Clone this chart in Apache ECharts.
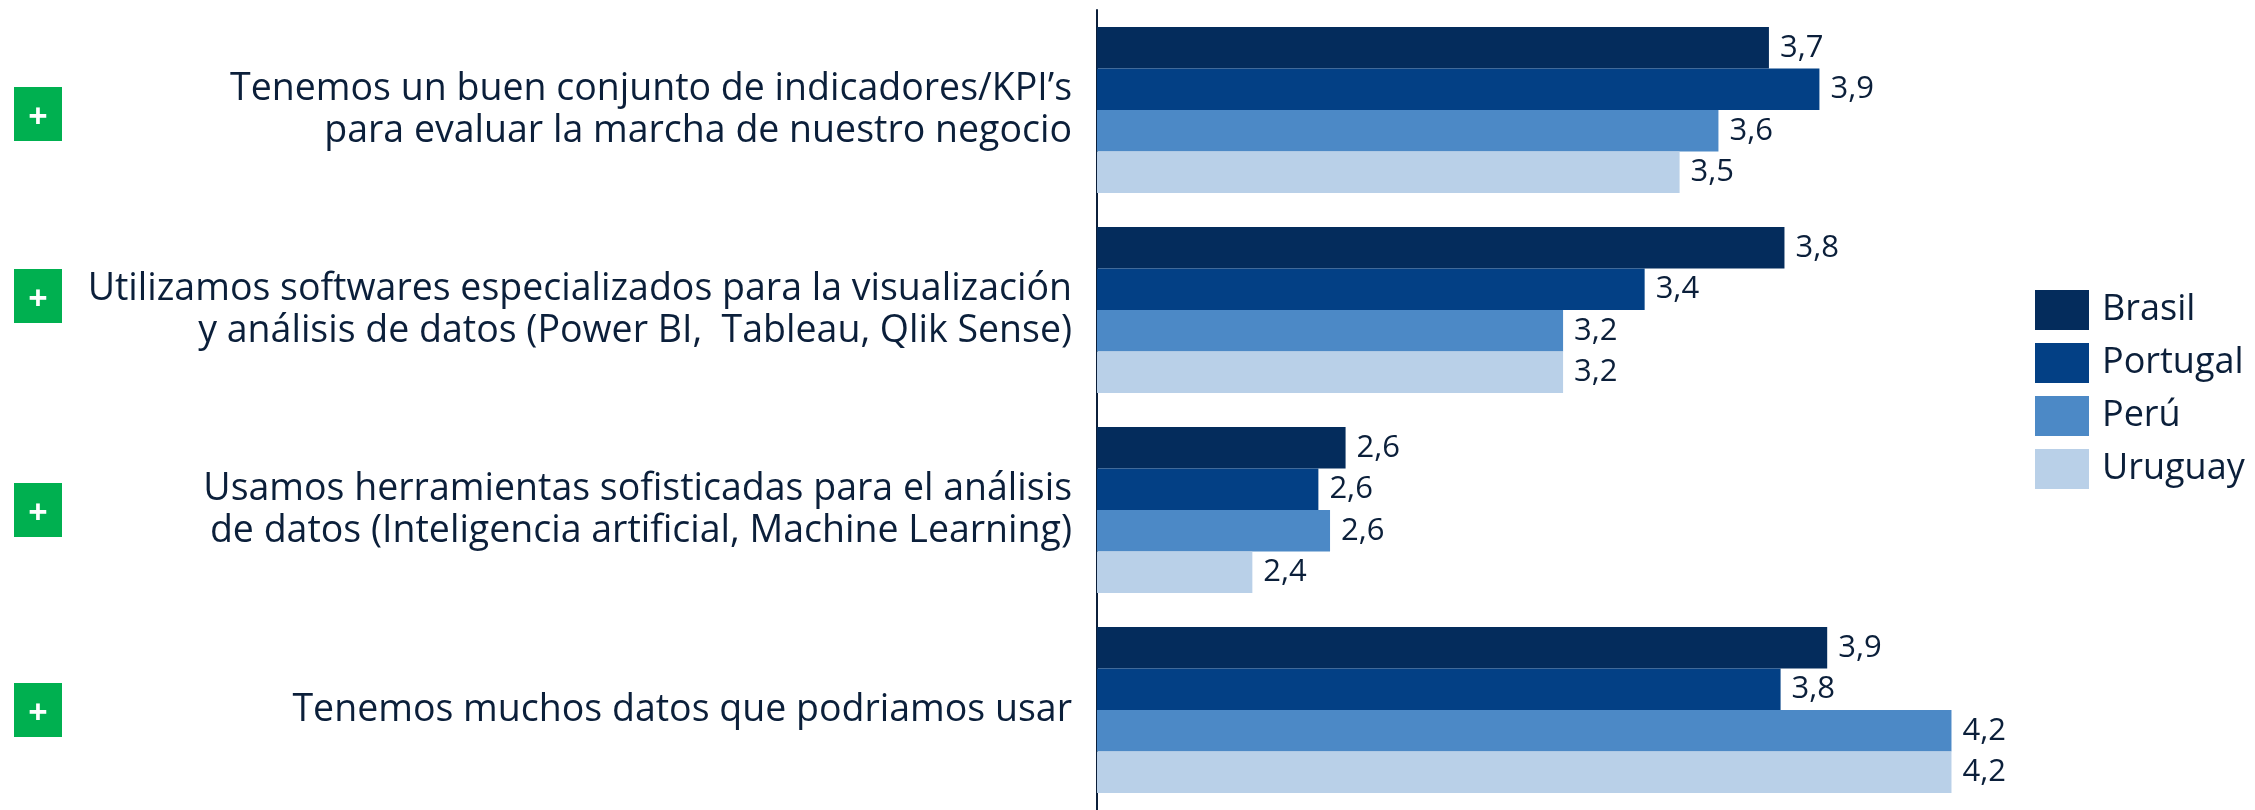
<!DOCTYPE html>
<html>
<head>
<meta charset="utf-8">
<script src="https://cdn.jsdelivr.net/npm/echarts@6/dist/echarts.min.js"></script>
<style>
  html, body { margin: 0; padding: 0; background: #fff; }
  #chart { width: 2255px; height: 810px; }
</style>
</head>
<body>
<div id="chart"></div>
<script>
// categories (y axis, top to bottom)
const categories = [
  'Tenemos un buen conjunto de indicadores/KPI’s\npara evaluar la marcha de nuestro negocio',
  'Utilizamos softwares especializados para la visualización\ny análisis de datos (Power BI,  Tableau, Qlik Sense)',
  'Usamos herramientas sofisticadas para el análisis\nde datos (Inteligencia artificial, Machine Learning)',
  'Tenemos muchos datos que podriamos usar'
]
const countries = ['Brasil', 'Portugal', 'Perú', 'Uruguay']
// values (labels show them rounded)
const brasil = [3.73, 3.77, 2.64, 3.88]
const portugal = [3.86, 3.41, 2.57, 3.76]
const peru = [3.60, 3.20, 2.60, 4.20]
const uruguay = [3.50, 3.20, 2.40, 4.20]
const colors = ['#042c5c', '#034085', '#4c89c6', '#b9d0e8']

const textColor = '#0b1f3a'
// the green "+" boxes sit a little off the band centre in the original
const plusShift = [4, -14, 0, 0]

const chart = echarts.init(document.getElementById('chart'))

const seriesData = [brasil, portugal, peru, uruguay]

chart.setOption({
  animation: false,
  textStyle: { fontFamily: 'Open Sans' },
  grid: {
    left: 1097,
    right: 187,
    top: 10,
    bottom: -2
  },
  legend: {
    orient: 'vertical',
    left: 2030,
    top: 285,
    itemWidth: 54,
    itemHeight: 40,
    itemGap: 13,
    icon: 'rect',
    data: countries,
    textStyle: {
      color: textColor,
      fontSize: 36,
      fontFamily: 'Open Sans',
      padding: [0, 0, 0, 8]
    }
  },
  xAxis: {
    type: 'value',
    min: 2,
    max: 4.5,
    show: false
  },
  yAxis: [{
    type: 'category',
    data: categories,
    inverse: true,
    axisTick: { show: false },
    axisLine: {
      show: true,
      lineStyle: { color: textColor, width: 2 }
    },
    axisLabel: {
      color: textColor,
      fontSize: 37.5,
      lineHeight: 42,
      margin: 25,
      align: 'right'
    }
  }, {
    // green "+" markers on the far left
    type: 'category',
    data: categories,
    inverse: true,
    position: 'left',
    offset: 1035,
    axisTick: { show: false },
    axisLine: { show: false },
    axisLabel: {
      margin: 0,
      formatter: (v, idx) => {
        const d = plusShift[idx] || 0
        if (d > 0) return '{s' + idx + '| }\n{p|+}'
        if (d < 0) return '{p|+}\n{s' + idx + '| }'
        return '{p|+}'
      },
      rich: Object.assign({
        p: {
          backgroundColor: '#00b050',
          color: '#fff',
          width: 48,
          height: 46,
          lineHeight: 46,
          align: 'center',
          fontSize: 34,
          fontWeight: 'bold',
          padding: [8, 0, 0, 0]
        }
      }, ...plusShift.map((d, i) => ({
        ['s' + i]: { fontSize: 1, height: Math.abs(d) * 2, lineHeight: Math.abs(d) * 2 }
      })))
    }
  }],
  series: countries.map((name, i) => ({
    name: name,
    type: 'bar',
    data: seriesData[i],
    barGap: 0,
    barCategoryGap: '17%',
    itemStyle: { color: colors[i] },
    label: {
      show: true,
      position: 'right',
      distance: 11,
      color: textColor,
      fontSize: 31,
      fontFamily: 'Open Sans',
      formatter: (p) => p.value.toFixed(1).replace('.', ',')
    }
  }))
})
</script>
</body>
</html>
